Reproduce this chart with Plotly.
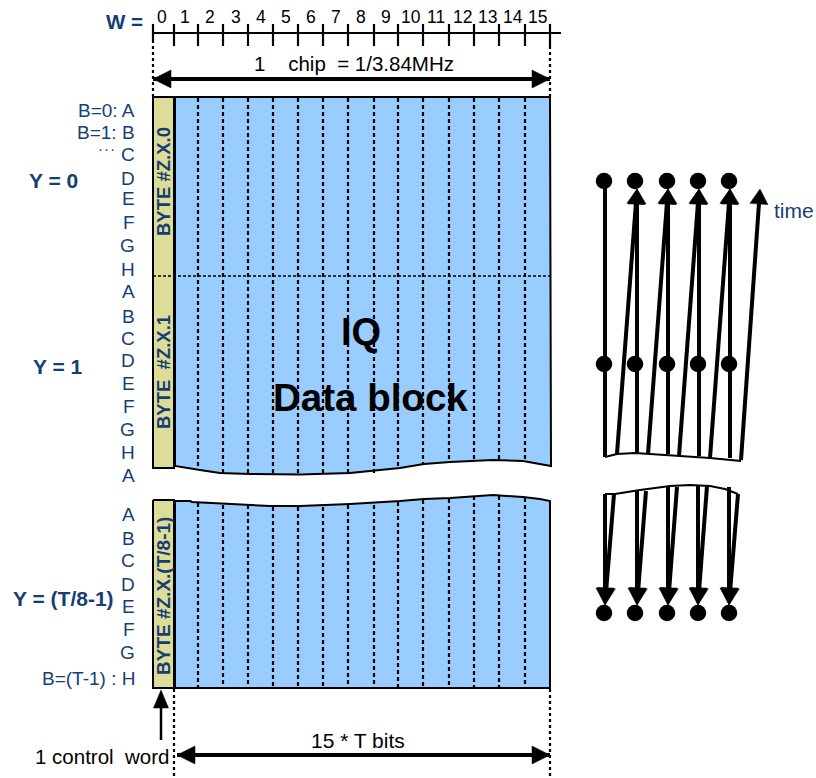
import math
import plotly.graph_objects as go

W_LABELS = [str(i) for i in range(16)]
W_LABEL_X = [162, 185, 210, 236, 261, 286, 311, 336, 361, 386, 411, 436, 462, 487, 513, 537]
TICK_X = [153, 174, 198, 223, 248, 273, 298, 323, 348, 374, 398, 423, 449, 474, 499, 525, 550]
DASH_X = TICK_X[2:-1]

UPPER_EDGE_X = [175, 200, 220, 250, 300, 350, 400, 424, 450, 493, 523, 551]
UPPER_EDGE_Y = [466, 470, 473, 474, 474.5, 473, 468, 464, 462, 460, 461, 466]
LOWER_EDGE_X = [175, 190, 192, 230, 270, 300, 350, 400, 424, 450, 493, 523, 540, 550]
LOWER_EDGE_Y = [501, 501, 502, 504, 506, 506, 504, 501, 499, 498, 495, 497, 499, 501]

ROW_RIGHT = 137
ROW_LABELS_UP = ["B=0: A", "B=1: B", "C", "D", "E", "F", "G", "H", "A", "B", "C", "D", "E", "F", "G", "H", "A"]
ROW_Y_UP = [110, 132, 154, 178, 198, 222, 245, 269, 291, 316, 338, 360, 383, 406, 429, 452, 475]
ROW_LABELS_LOW = ["A", "B", "C", "D", "E", "F", "G", "B=(T-1) : H"]
ROW_Y_LOW = [514, 538, 560, 584, 606, 629, 652, 678]

DOT_X = [604, 635, 667, 698, 729]
DOT_ROWS_Y = [181, 364, 613]
STEM_X = [605, 637, 668, 699, 730]
UP_SLANT_FOOT_X = [617, 648, 679, 710, 741]
UP_SLANT_FOOT_Y = [454, 454, 456, 458, 460]
UP_SLANT_TIP_X = [637, 668, 699, 730, 760]
UP_WAVE_X = [605, 617, 635, 650, 680, 710, 741]
UP_WAVE_Y = [457, 454, 453, 454, 456, 458, 461]
DOWN_TIP_X = [605, 637, 668, 698, 729]
DOWN_STEM_TOP = [494, 490, 486, 485, 487]
DOWN_SLANT_TOP_X = [614, 646, 677, 707, 738]
DOWN_SLANT_TOP_Y = [494, 491, 487, 486, 494]
LOW_WAVE_X = [605, 615, 640, 670, 690, 710, 725, 738]
LOW_WAVE_Y = [494, 494, 490, 486, 485, 486, 489, 494]

BLUE = "#99CCFF"
YELLOW = "#DDDD99"
NAVY = "#163E74"
FONT = "Liberation Sans"

fig = go.Figure()


def line(xs, ys, width=2, dash=None, color="black"):
    fig.add_trace(go.Scatter(x=xs, y=ys, mode="lines", hoverinfo="skip",
                             line=dict(color=color, width=width, dash=dash)))


def poly(xs, ys, fill, border="black", width=2):
    fig.add_trace(go.Scatter(x=list(xs) + [xs[0]], y=list(ys) + [ys[0]], mode="lines",
                             fill="toself", fillcolor=fill, hoverinfo="skip",
                             line=dict(color=border, width=width)))


def arrow(x0, y0, x1, y1, width=4, length=18, half=9):
    d = math.hypot(x1 - x0, y1 - y0)
    ux, uy = (x1 - x0) / d, (y1 - y0) / d
    bx, by = x1 - ux * length, y1 - uy * length
    line([x0, bx], [y0, by], width=width)
    poly([x1, bx - uy * half, bx + uy * half], [y1, by + ux * half, by - ux * half],
         "black", width=0.5)


def text(x, y, s, size=15, color="black", bold=False, anchor="center", angle=0):
    fig.add_annotation(x=x, y=y, text=f"<b>{s}</b>" if bold else s, showarrow=False,
                       xanchor=anchor, yanchor="middle", textangle=angle,
                       font=dict(family=FONT, size=size, color=color))


# Blocks
poly([175, 550] + UPPER_EDGE_X[::-1], [97, 97] + UPPER_EDGE_Y[::-1], BLUE)
poly(LOWER_EDGE_X + [550, 175], LOWER_EDGE_Y + [688, 688], BLUE)
poly([153, 174, 174, 153], [97, 97, 468, 468], YELLOW)
poly([153, 174, 174, 153], [500, 500, 688, 688], YELLOW)

# Dashed separators
for i, x in enumerate(DASH_X):
    top_y = UPPER_EDGE_Y[min(range(len(UPPER_EDGE_X)), key=lambda k: abs(UPPER_EDGE_X[k] - x))]
    low_y = LOWER_EDGE_Y[min(range(len(LOWER_EDGE_X)), key=lambda k: abs(LOWER_EDGE_X[k] - x))]
    line([x, x], [98, top_y], width=2.2, dash="4px,3px")
    line([x, x], [low_y + 1, 687], width=2.2, dash="4px,3px")
line([153, 550], [276, 276], width=1.5, dash="3px,2px")

# W scale
line([153, 561], [33, 33], width=2)
for i, x in enumerate(TICK_X):
    line([x, x], [24, 40 if i == 0 else 46], width=2.2)
for x, s in zip(W_LABEL_X, W_LABELS):
    text(x, 17, s, size=17.5)
text(124, 21, "W =", size=20.5, color=NAVY, bold=True)

# Extents
line([153, 153], [40, 97], width=2.2, dash="3px,3px")
line([550, 550], [46, 97], width=2.2, dash="3px,3px")
arrow(550, 79, 153, 79)
arrow(153, 79, 550, 79)
text(354, 63, "1&nbsp;&nbsp;&nbsp; chip&nbsp; = 1/3.84MHz", size=20.5)

line([174, 174], [689, 778], width=2.2, dash="3px,3px")
line([550, 550], [689, 778], width=2.2, dash="3px,3px")
arrow(550, 755, 177, 755)
arrow(177, 755, 550, 755)
text(358, 740, "15 * T bits", size=21)
arrow(161, 740, 161, 690, width=2.5, length=18, half=7.5)
text(102, 756, "1 control&nbsp; word", size=20.5)

# Rows
for s, y in list(zip(ROW_LABELS_UP, ROW_Y_UP)) + list(zip(ROW_LABELS_LOW, ROW_Y_LOW)):
    text(ROW_RIGHT, y, s, size=19, color=NAVY, anchor="right")
text(107, 150, "· · ·", size=10, color=NAVY, bold=True)
text(53, 180, "Y = 0", size=21, color=NAVY, bold=True)
text(58, 366, "Y = 1", size=21, color=NAVY, bold=True)
text(63, 598, "Y = (T/8-1)", size=21, color=NAVY, bold=True)

# Byte labels
text(163, 182, "BYTE #Z.X.0", size=18.5, color=NAVY, bold=True, angle=-90)
text(163, 372, "BYTE&nbsp; #Z.X.1", size=18.5, color=NAVY, bold=True, angle=-90)
text(163, 596, "BYTE #Z.X.(T/8-1)", size=19, color=NAVY, bold=True, angle=-90)

# Centre text
text(361, 332, "IQ", size=38, bold=True)
text(370, 397, "Data block", size=38.5, bold=True)

# Time-order diagram (upper)
line([605, 605], [181, UP_WAVE_Y[0]], width=4)
for x, fy in zip(STEM_X[1:], UP_SLANT_FOOT_Y):
    arrow(x, fy, x, 189, width=4, length=15, half=9)
for fx, fy, tx in zip(UP_SLANT_FOOT_X, UP_SLANT_FOOT_Y, UP_SLANT_TIP_X):
    arrow(fx, fy, tx, 189, width=4, length=15, half=9)
line(UP_WAVE_X, UP_WAVE_Y, width=2)

# Time-order diagram (lower)
for tx, top in zip(DOWN_TIP_X, DOWN_STEM_TOP):
    arrow(tx, top, tx, 605, width=4, length=17, half=9)
for tx, sx, sy in zip(DOWN_TIP_X, DOWN_SLANT_TOP_X, DOWN_SLANT_TOP_Y):
    arrow(sx, sy, tx, 605, width=4, length=17, half=9)
line(LOW_WAVE_X, LOW_WAVE_Y, width=2)

# Dots
for y in DOT_ROWS_Y:
    fig.add_trace(go.Scatter(x=DOT_X, y=[y] * len(DOT_X), mode="markers", hoverinfo="skip",
                             marker=dict(color="black", size=16.5)))
text(794, 210, "time", size=21, color=NAVY)

fig.update_layout(
    width=816, height=778, margin=dict(l=0, r=0, t=0, b=0), showlegend=False,
    paper_bgcolor="white", plot_bgcolor="white",
    xaxis=dict(range=[0, 816], visible=False, fixedrange=True),
    yaxis=dict(range=[778, 0], visible=False, fixedrange=True),
)
fig.write_html("out.html", config={"displayModeBar": False},
               post_script="document.body.style.margin='0';document.body.style.overflow='hidden';")
